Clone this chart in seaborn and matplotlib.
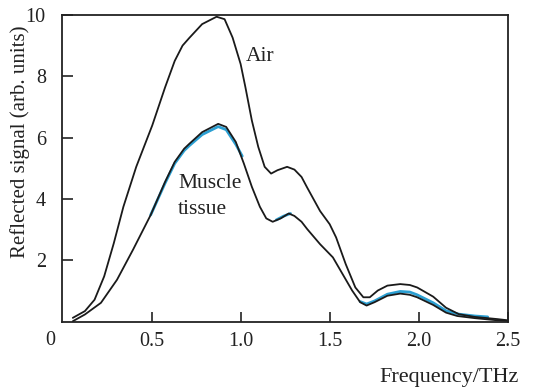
import matplotlib
matplotlib.use("Agg")
import matplotlib.pyplot as plt
import seaborn as sns
import pandas as pd

sns.set_style("white")
plt.rcParams['font.family'] = ['Liberation Serif', 'DejaVu Serif']

air_x = [0.058, 0.126, 0.18, 0.234, 0.288, 0.342, 0.414, 0.504, 0.576, 0.63, 0.674, 0.712, 0.784,
         0.865, 0.91, 0.955, 1.0, 1.027, 1.063, 1.099, 1.135, 1.171, 1.207, 1.261, 1.302, 1.342,
         1.374, 1.446, 1.5, 1.536, 1.59, 1.644, 1.689, 1.725, 1.77, 1.824, 1.896, 1.95, 1.991,
         2.081, 2.153, 2.225, 2.315, 2.44, 2.5]
air_y = [0.13, 0.35, 0.72, 1.48, 2.56, 3.75, 5.05, 6.4, 7.64, 8.5, 9.0, 9.25, 9.7,
         9.94, 9.86, 9.26, 8.4, 7.64, 6.56, 5.7, 5.05, 4.83, 4.94, 5.05, 4.96, 4.72,
         4.37, 3.61, 3.18, 2.75, 1.88, 1.12, 0.8, 0.8, 1.02, 1.18, 1.23, 1.2, 1.12,
         0.82, 0.46, 0.25, 0.16, 0.09, 0.05]

muscle_x = [0.058, 0.126, 0.216, 0.306, 0.396, 0.495, 0.576, 0.63, 0.683, 0.712, 0.784, 0.874,
            0.919, 0.973, 1.018, 1.063, 1.108, 1.144, 1.18, 1.225, 1.27, 1.302, 1.342, 1.374,
            1.446, 1.518, 1.572, 1.626, 1.671, 1.707, 1.752, 1.824, 1.896, 1.95, 1.991, 2.081,
            2.153, 2.216, 2.315, 2.44, 2.5]
muscle_y = [0.02, 0.24, 0.62, 1.37, 2.35, 3.48, 4.56, 5.21, 5.64, 5.8, 6.18, 6.45,
            6.35, 5.86, 5.16, 4.4, 3.75, 3.37, 3.26, 3.37, 3.53, 3.45, 3.26, 3.02,
            2.53, 2.1, 1.56, 1.02, 0.64, 0.53, 0.64, 0.85, 0.92, 0.88, 0.8, 0.55,
            0.3, 0.19, 0.12, 0.05, 0.03]

blue_seg = [1]*10 + [2]*3 + [3]*12
blue_x = [0.495, 0.576, 0.63, 0.683, 0.712, 0.784, 0.874, 0.919, 0.973, 1.009,
          1.2, 1.24, 1.28,
          1.671, 1.707, 1.752, 1.824, 1.896, 1.95, 1.991, 2.081, 2.153, 2.225, 2.315, 2.387]
blue_y = [3.48, 4.52, 5.16, 5.58, 5.74, 6.1, 6.36, 6.26, 5.78, 5.4,
          3.32, 3.44, 3.53,
          0.66, 0.58, 0.68, 0.9, 0.99, 0.97, 0.88, 0.62, 0.36, 0.25, 0.19, 0.16]

xticks = [0.5, 1.0, 1.5, 2.0, 2.5]
xticklabels = ["0.5", "1.0", "1.5", "2.0", "2.5"]
yticks = [2, 4, 6, 8, 10]

ink = "#222222"
fig = plt.figure(figsize=(5.34, 3.92), dpi=100)
ax = fig.add_axes([0.117, 0.179, 0.834, 0.783])

blue_df = pd.DataFrame({"x": blue_x, "y": blue_y, "seg": blue_seg})
sns.lineplot(data=blue_df, x="x", y="y", units="seg", estimator=None, sort=False,
             color="#2b9fd2", lw=2.0, ax=ax, solid_joinstyle="round", solid_capstyle="round")
sns.lineplot(x=air_x, y=air_y, color="#1a1a1a", lw=1.3, ax=ax, sort=False,
             solid_joinstyle="round")
sns.lineplot(x=muscle_x, y=muscle_y, color="#1a1a1a", lw=1.3, ax=ax, sort=False,
             solid_joinstyle="round")

ax.set_xlim(0, 2.5)
ax.set_ylim(0, 10)
ax.set_xticks(xticks)
ax.set_xticklabels(xticklabels)
ax.set_yticks(yticks)
ax.tick_params(axis="x", bottom=True, direction="in", length=7, width=1.2, pad=7,
               labelsize=14.5, colors=ink)
ax.tick_params(axis="y", left=True, direction="in", length=8, width=1.2, pad=12,
               labelsize=14.5, colors=ink)
for s in ax.spines.values():
    s.set_visible(True)
    s.set_color(ink)
    s.set_linewidth(1.3)

ax.set_xlabel("")
ax.set_ylabel("")
fig.text(0.0375, 0.639, "Reflected signal (arb. units)", rotation=90, fontsize=15,
         color=ink, ha="center", va="center")
ax.text(-0.07, -0.3, "0", fontsize=14.5, color=ink, ha="center", va="top", clip_on=False)

ax.text(1.03, 8.65, "Air", fontsize=15.5, color=ink, ha="left", va="center")
ax.text(0.65, 4.5, "Muscle", fontsize=15.5, color=ink, ha="left", va="center")
ax.text(0.65, 3.65, "tissue", fontsize=15.5, color=ink, ha="left", va="center")

fig.text(0.972, 0.038, "Frequency/THz", fontsize=16, color=ink, ha="right", va="center")

fig.savefig("out.png", dpi=100)
